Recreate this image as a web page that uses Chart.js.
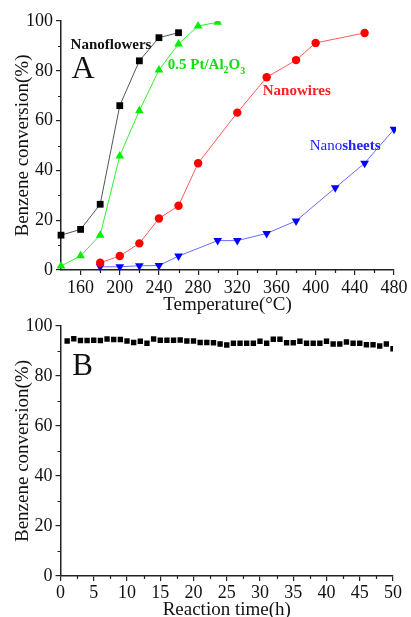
<!DOCTYPE html>
<html><head><meta charset="utf-8">
<script src="https://cdn.jsdelivr.net/npm/chart.js@4"></script>
<style>
html,body{margin:0;padding:0;background:#fff;}
#wrap{position:relative;width:411px;height:617px;overflow:hidden;background:#fff;}
canvas{position:absolute;left:0;}
#ca{top:0;}
#cb{top:310px;}
</style></head><body>
<div id="wrap"><canvas id="ca" width="411" height="318"></canvas><canvas id="cb" width="411" height="310"></canvas></div>
<script>
// ---------- Panel A data ----------
const tempTicks = [160, 200, 240, 280, 320, 360, 400, 440, 480];
const tempMinorTicks = [180, 220, 260, 300, 340, 380, 420, 460];
const convTicks = [0, 20, 40, 60, 80, 100];
const convMinorTicks = [10, 30, 50, 70, 90];

const nanoflowersT = [140, 160, 180, 200, 220, 240, 260];
const nanoflowersV = [14, 16.3, 26.4, 66, 84, 93.3, 95.3];
const ptAl2O3T = [140, 160, 180, 200, 220, 240, 260, 280, 300];
const ptAl2O3V = [1.6, 5.7, 14, 45.8, 64, 80.3, 90.8, 98, 99.5];
const nanowiresT = [180, 200, 220, 240, 260, 280, 320, 350, 380, 400, 450];
const nanowiresV = [2.9, 5.6, 10.7, 20.7, 25.8, 42.9, 63.2, 77.4, 84.3, 91.2, 95.2];
const nanosheetsT = [180, 200, 220, 240, 260, 300, 320, 350, 380, 420, 450, 480];
const nanosheetsV = [1.3, 1.3, 1.7, 1.8, 5.6, 11.8, 11.8, 14.7, 19.7, 33, 42.9, 56.5];

// ---------- Panel B data ----------
const timeTicks = [0, 5, 10, 15, 20, 25, 30, 35, 40, 45, 50];
const timeMinorTicks = [2.5, 7.5, 12.5, 17.5, 22.5, 27.5, 32.5, 37.5, 42.5, 47.5];
const hours = [1,2,3,4,5,6,7,8,9,10,11,12,13,14,15,16,17,18,19,20,21,22,23,24,25,26,27,28,29,30,31,32,33,34,35,36,37,38,39,40,41,42,43,44,45,46,47,48,49,50];
const stabilityV = [94.0,94.9,94.2,94.2,94.3,94.2,94.8,94.6,94.6,94.0,93.4,93.9,93.1,94.8,94.3,94.3,94.3,94.4,94.0,94.0,93.4,93.4,93.3,92.8,92.4,93.1,93.1,93.1,93.1,93.9,93.1,94.7,94.7,93.3,93.3,93.9,93.1,93.1,93.1,93.9,92.8,92.8,93.6,93.1,93.1,92.5,92.5,92.0,92.8,90.9];

const SERIF = "'Liberation Serif', 'Times New Roman', serif";
const zip = (xs, ys) => xs.map((x, i) => ({x: x, y: ys[i]}));

const minorTickPlugin = {
  id: 'minorTicks',
  afterDraw(chart, args, opts) {
    const ctx = chart.ctx;
    const xs = chart.scales.x, ys = chart.scales.y;
    ctx.save();
    ctx.strokeStyle = '#222';
    ctx.lineWidth = 1.2;
    ctx.beginPath();
    (opts.x || []).forEach(v => {
      const p = Math.round(xs.getPixelForValue(v)) + 0.5;
      ctx.moveTo(p, xs.top); ctx.lineTo(p, xs.top + 3);
    });
    (opts.y || []).forEach(v => {
      const p = Math.round(ys.getPixelForValue(v)) + 0.5;
      ctx.moveTo(ys.right, p); ctx.lineTo(ys.right - 3, p);
    });
    ctx.stroke();
    ctx.restore();
  }
};

const textPlugin = {
  id: 'labels',
  afterDatasetsDraw(chart, args, opts) {
    const ctx = chart.ctx;
    const xs = chart.scales.x, ys = chart.scales.y;
    ctx.save();
    ctx.textBaseline = 'alphabetic';
    ctx.textAlign = 'left';
    (opts.items || []).forEach(item => {
      let x = xs.getPixelForValue(item.x);
      const y = ys.getPixelForValue(item.y);
      item.parts.forEach(p => {
        ctx.font = (p.bold ? 'bold ' : '') + p.size + 'px ' + SERIF;
        ctx.fillStyle = item.color;
        ctx.fillText(p.t, x, y + (p.dy || 0));
        x += ctx.measureText(p.t).width;
      });
    });
    ctx.restore();
  }
};

function axisCommon(extra) {
  return Object.assign({
    type: 'linear',
    border: {display: true, color: '#222', width: 1.5},
    grid: {drawOnChartArea: false, drawTicks: true, tickLength: 5, color: '#222', lineWidth: 1.2},
  }, extra);
}

// ---------- Chart A ----------
new Chart(document.getElementById('ca'), {
  type: 'line',
  data: {
    datasets: [
      {label: 'Nanoflowers', data: zip(nanoflowersT, nanoflowersV), borderColor: '#555', borderWidth: 1,
       pointStyle: 'rect', pointRadius: 4.8, pointBackgroundColor: '#000', pointBorderColor: '#000', pointBorderWidth: 0},
      {label: '0.5 Pt/Al2O3', data: zip(ptAl2O3T, ptAl2O3V), borderColor: '#33ee33', borderWidth: 1,
       pointStyle: 'triangle', pointRadius: 5, pointBackgroundColor: '#00ee00', pointBorderColor: '#00ee00', pointBorderWidth: 0},
      {label: 'Nanowires', data: zip(nanowiresT, nanowiresV), borderColor: '#ff5a5a', borderWidth: 1,
       pointStyle: 'circle', pointRadius: 4.2, pointBackgroundColor: '#ff0000', pointBorderColor: '#ff0000', pointBorderWidth: 0},
      {label: 'Nanosheets', data: zip(nanosheetsT, nanosheetsV), borderColor: '#6a6aff', borderWidth: 1,
       pointStyle: 'triangle', pointRotation: 180, pointRadius: 5, pointBackgroundColor: '#0000ff', pointBorderColor: '#0000ff', pointBorderWidth: 0}
    ]
  },
  options: {
    responsive: false, animation: false, devicePixelRatio: 1,
    layout: {padding: {left: 0, top: 21, right: 17, bottom: 0}},
    datasets: {line: {clip: {left: false, top: 0, right: 2, bottom: false}, tension: 0}},
    plugins: {
      legend: {display: false}, tooltip: {enabled: false},
      minorTicks: {x: tempMinorTicks, y: convMinorTicks},
      labels: {items: [
        {x: 149.8, y: 88.7, color: '#111', parts: [{t: 'Nanoflowers', size: 15, bold: true}]},
        {x: 150.6, y: 77.1, color: '#111', parts: [{t: 'A', size: 32}]},
        {x: 249, y: 80.7, color: '#11dd11', parts: [
          {t: '0.5 Pt/Al', size: 15, bold: true}, {t: '2', size: 10, bold: true, dy: 4},
          {t: 'O', size: 15, bold: true}, {t: '3', size: 10, bold: true, dy: 5}]},
        {x: 346, y: 70.3, color: '#ff2020', parts: [{t: 'Nanowires', size: 15, bold: true}]},
        {x: 394, y: 48.2, color: '#2222ff', parts: [{t: 'Nano', size: 15}, {t: 'sheets', size: 15, bold: true}]}
      ]}
    },
    scales: {
      x: axisCommon({
        min: 140, max: 480,
        afterBuildTicks: s => { s.ticks = tempTicks.map(v => ({value: v})); },
        afterFit: s => { s.height = 48; },
        ticks: {autoSkip: false, maxRotation: 0, padding: 2, color: '#111', font: {family: SERIF, size: 18}},
        title: {display: true, text: 'Temperature(°C)', color: '#111', padding: {top: 0, bottom: 2}, font: {family: SERIF, size: 19, lineHeight: 1.2}}
      }),
      y: axisCommon({
        min: 0, max: 100,
        afterBuildTicks: s => { s.ticks = convTicks.map(v => ({value: v})); },
        afterFit: s => { s.width = 61; },
        ticks: {autoSkip: false, padding: 3, color: '#111', font: {family: SERIF, size: 18}},
        title: {display: true, text: 'Benzene conversion(%)', color: '#111', padding: {top: 14, bottom: 0}, font: {family: SERIF, size: 19, lineHeight: 1}}
      })
    }
  },
  plugins: [minorTickPlugin, textPlugin]
});

// ---------- Chart B ----------
new Chart(document.getElementById('cb'), {
  type: 'line',
  data: {
    datasets: [
      {label: 'Stability', data: zip(hours, stabilityV), showLine: false,
       pointStyle: 'rect', pointRadius: 3.8, pointBackgroundColor: '#000', pointBorderColor: '#000', pointBorderWidth: 0}
    ]
  },
  options: {
    responsive: false, animation: false, devicePixelRatio: 1,
    layout: {padding: {left: 0, top: 16, right: 18, bottom: 0}},
    plugins: {
      legend: {display: false}, tooltip: {enabled: false},
      minorTicks: {x: timeMinorTicks, y: convMinorTicks},
      labels: {items: [
        {x: 1.76, y: 80.4, color: '#111', parts: [{t: 'B', size: 31}]}
      ]}
    },
    scales: {
      x: axisCommon({
        min: 0, max: 50,
        afterBuildTicks: s => { s.ticks = timeTicks.map(v => ({value: v})); },
        afterFit: s => { s.height = 44; },
        ticks: {autoSkip: false, maxRotation: 0, padding: 1, color: '#111', font: {family: SERIF, size: 18}},
        title: {display: true, text: 'Reaction time(h)', color: '#111', padding: {top: 0, bottom: 0}, font: {family: SERIF, size: 19, lineHeight: 1}}
      }),
      y: axisCommon({
        min: 0, max: 100,
        afterBuildTicks: s => { s.ticks = convTicks.map(v => ({value: v})); },
        afterFit: s => { s.width = 60.5; },
        ticks: {autoSkip: false, padding: 3, color: '#111', font: {family: SERIF, size: 18}},
        title: {display: true, text: 'Benzene conversion(%)', color: '#111', padding: {top: 14, bottom: 0}, font: {family: SERIF, size: 19, lineHeight: 1}}
      })
    }
  },
  plugins: [minorTickPlugin, textPlugin]
});
</script>
</body></html>
